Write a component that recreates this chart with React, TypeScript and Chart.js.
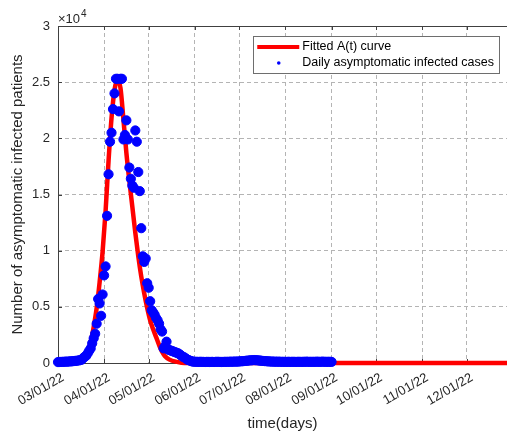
import React, { useEffect, useRef } from "react";
import { Chart, registerables } from "chart.js";

Chart.register(...registerables);

// x axis: days counted from 03/01/22
const monthTickDays = [0, 31, 61, 92, 122, 153, 184, 214, 245, 275];
const monthTickLabels = [
  "03/01/22", "04/01/22", "05/01/22", "06/01/22", "07/01/22",
  "08/01/22", "09/01/22", "10/01/22", "11/01/22", "12/01/22",
];
const axisMaxDay = 302;

const yTickValues = [0, 5000, 10000, 15000, 20000, 25000, 30000];
const yTickLabels = ["0", "0.5", "1", "1.5", "2", "2.5", "3"];

const seriesLabels = ["Fitted A(t) curve", "Daily asymptomatic infected cases"];

// daily asymptomatic infected cases, one value per day starting 03/01/22
const dailyCases = [
  80, 90, 100, 100, 110, 120, 120, 130, 140, 150,
  160, 180, 190, 210, 230, 260, 300, 450, 560, 650,
  860, 1100, 1300, 1750, 2200, 2600, 3500, 5700, 5300, 4200,
  6100, 7800, 8600, 13100, 16800, 19700, 20500, 22600, 24000, 25300,
  25300, 22400, 25300, 25300, 19900, 20300, 21600, 19900, 17400, 16400,
  15800, 15600, 20700, 19700, 17000, 15300, 12000, 9500, 9000, 9300,
  7100, 6700, 5500, 4700, 4500, 4300, 4000, 3800, 3500, 3000,
  2800, 1300, 1500, 1900, 1200, 1150, 1100, 1050, 1000, 950,
  900, 850, 750, 650, 550, 500, 400, 300, 250, 200,
  150, 120, 110, 110, 100, 100, 110, 100, 100, 90,
  100, 100, 90, 100, 100, 90, 100, 110, 100, 100,
  90, 100, 100, 110, 100, 110, 120, 110, 120, 130,
  120, 130, 140, 150, 160, 170, 190, 200, 220, 230,
  240, 250, 260, 250, 240, 230, 210, 200, 180, 170,
  160, 150, 140, 130, 130, 120, 120, 110, 120, 110,
  110, 100, 110, 100, 100, 110, 100, 100, 110, 100,
  100, 100, 110, 100, 100, 110, 100, 120, 110, 100,
  110, 100, 110, 100, 120, 110, 100, 110, 120, 110,
  100, 110, 100, 110, 100,
];

// fitted A(t) curve, read at selected days
const fitDays = [
  0, 10, 14, 16, 18, 19, 20, 22, 23, 24, 26, 28, 30, 32, 34, 36, 38, 40, 42,
  44, 46, 48, 50, 52, 54, 56, 58, 60, 62, 64, 66, 68, 70, 72, 75, 80, 85, 100, 302,
];
const fitValues = [
  0, 20, 80, 250, 550, 800, 1000, 1900, 2500, 3200, 4900, 7200, 9900, 13500, 18000, 21800, 24300, 25200, 24500,
  21700, 18700, 16200, 13900, 11600, 9500, 7700, 6200, 4900, 3800, 3000, 2300, 1600, 1000, 600, 300, 100, 0, 0, 0,
];

const FONT = "'Liberation Sans', Arial, Helvetica, sans-serif";
const TEXT = "#262626";

const decorPlugin = {
  id: "decor",
  beforeDatasetsDraw(chart: any) {
    const { ctx, chartArea, scales } = chart;
    const { left, right, top, bottom } = chartArea;
    const x = scales.x;
    const y = scales.y;
    ctx.save();
    ctx.strokeStyle = "#404040";
    ctx.lineWidth = 1;
    ctx.setLineDash([]);
    ctx.beginPath();
    ctx.moveTo(Math.round(left) + 0.5, top);
    ctx.lineTo(Math.round(left) + 0.5, bottom);
    ctx.moveTo(left, Math.round(bottom) + 0.5);
    ctx.lineTo(right, Math.round(bottom) + 0.5);
    ctx.moveTo(left, Math.round(top) + 0.5);
    ctx.lineTo(right, Math.round(top) + 0.5);
    const tl = 4;
    monthTickDays.forEach((d) => {
      const px = Math.round(x.getPixelForValue(d)) + 0.5;
      ctx.moveTo(px, bottom);
      ctx.lineTo(px, bottom - tl);
      ctx.moveTo(px, top);
      ctx.lineTo(px, top + tl);
    });
    yTickValues.forEach((v) => {
      const py = Math.round(y.getPixelForValue(v)) + 0.5;
      ctx.moveTo(left, py);
      ctx.lineTo(left + tl, py);
    });
    ctx.stroke();
    ctx.restore();
  },
  afterDraw(chart: any) {
    const { ctx, chartArea } = chart;
    const { left, right, top } = chartArea;
    ctx.save();
    // exponent label
    ctx.fillStyle = TEXT;
    ctx.textBaseline = "alphabetic";
    ctx.textAlign = "left";
    ctx.font = `13px ${FONT}`;
    const base = "\u00d710";
    ctx.fillText(base, left, top - 3);
    const bw = ctx.measureText(base).width;
    ctx.font = `10px ${FONT}`;
    ctx.fillText("4", left + bw + 1, top - 9);

    // legend
    ctx.font = `12.5px ${FONT}`;
    const tw = Math.max(...seriesLabels.map((s) => ctx.measureText(s).width));
    const boxW = 49 + tw + 5;
    const boxH = 37;
    const bx = right - 8 - boxW;
    const by = top + 10;
    ctx.fillStyle = "#ffffff";
    ctx.fillRect(bx, by, boxW, boxH);
    ctx.strokeStyle = "#6e6e6e";
    ctx.lineWidth = 1;
    ctx.strokeRect(Math.round(bx) + 0.5, Math.round(by) + 0.5, Math.round(boxW), Math.round(boxH));
    const r1 = by + 11;
    const r2 = by + 27;
    ctx.strokeStyle = "#ff0000";
    ctx.lineWidth = 4;
    ctx.beginPath();
    ctx.moveTo(bx + 4, r1);
    ctx.lineTo(bx + 46, r1);
    ctx.stroke();
    ctx.fillStyle = "#0000ff";
    ctx.beginPath();
    ctx.arc(bx + 25.5, r2, 1.8, 0, Math.PI * 2);
    ctx.fill();
    ctx.fillStyle = "#000000";
    ctx.textBaseline = "middle";
    ctx.fillText(seriesLabels[0], bx + 49, r1);
    ctx.fillText(seriesLabels[1], bx + 49, r2);
    ctx.restore();
  },
};

export default function App() {
  const ref = useRef<HTMLCanvasElement | null>(null);

  useEffect(() => {
    if (!ref.current) return;
    const casePoints = dailyCases.map((v, i) => ({ x: i, y: v }));
    const fitPoints = fitDays.map((d, i) => ({ x: d, y: fitValues[i] }));
    const chart = new Chart(ref.current, {
      type: "scatter",
      data: {
        datasets: [
          {
            label: seriesLabels[1],
            data: casePoints,
            showLine: false,
            pointRadius: 4.6,
            pointBorderWidth: 1,
            pointBackgroundColor: "#0000ff",
            pointBorderColor: "#0000ff",
            order: 0,
            clip: false as any,
          },
          {
            label: seriesLabels[0],
            data: fitPoints,
            showLine: true,
            borderColor: "#ff0000",
            borderWidth: 4.5,
            pointRadius: 0,
            cubicInterpolationMode: "monotone",
            order: 1,
            clip: false as any,
          } as any,
        ],
      },
      options: {
        responsive: false,
        animation: false,
        devicePixelRatio: 1,
        layout: { autoPadding: false, padding: { top: 26, left: 0, right: 0, bottom: 0 } },
        plugins: {
          legend: { display: false },
          tooltip: { enabled: false },
        },
        scales: {
          x: {
            type: "linear",
            min: 0,
            max: axisMaxDay,
            afterFit: (s: any) => {
              s.height = 69;
              s.paddingLeft = 0;
              s.paddingRight = 0;
            },
            afterBuildTicks: (s: any) => {
              s.ticks = monthTickDays.map((v) => ({ value: v }));
            },
            ticks: {
              autoSkip: false,
              minRotation: 30,
              maxRotation: 30,
              padding: 7,
              labelOffset: 5,
              color: TEXT,
              font: { family: FONT, size: 13 },
              callback: (_v: any, i: number) => monthTickLabels[i],
            },
            grid: { color: "#b4b4b4", lineWidth: 1, drawTicks: false },
            border: { display: false, dash: [4, 3] },
            title: {
              display: true,
              text: "time(days)",
              color: TEXT,
              font: { family: FONT, size: 15, lineHeight: 1.1 },
              padding: { top: 0, bottom: 0 },
            },
          },
          y: {
            type: "linear",
            min: 0,
            max: 30000,
            afterFit: (s: any) => {
              s.width = 58;
              s.paddingTop = 0;
              s.paddingBottom = 0;
            },
            afterBuildTicks: (s: any) => {
              s.ticks = yTickValues.map((v) => ({ value: v }));
            },
            ticks: {
              padding: 8,
              color: TEXT,
              font: { family: FONT, size: 13 },
              callback: (_v: any, i: number) => yTickLabels[i],
            },
            grid: { color: "#b4b4b4", lineWidth: 1, drawTicks: false },
            border: { display: false, dash: [4, 3] },
            title: {
              display: true,
              text: "Number of asymptomatic infected patients",
              color: TEXT,
              font: { family: FONT, size: 15 },
              padding: { top: 9, bottom: 0 },
            },
          },
        },
      },
      plugins: [decorPlugin],
    });
    return () => chart.destroy();
  }, []);

  return (
    <div style={{ position: "absolute", left: 0, top: 0, width: 507, height: 432, background: "#fff" }}>
      <canvas ref={ref} width={507} height={432} style={{ display: "block" }} />
    </div>
  );
}
